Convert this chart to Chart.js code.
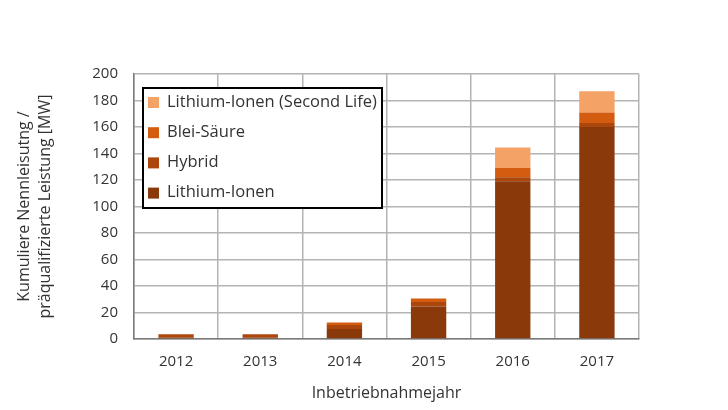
<!DOCTYPE html>
<html>
<head>
<meta charset="utf-8">
<script src="https://cdn.jsdelivr.net/npm/chart.js@4"></script>
<style>
html,body{margin:0;padding:0;background:#fff;}
#wrap{width:728px;height:410px;}
</style>
</head>
<body>
<div id="wrap"><canvas id="my_canvas" width="728" height="410"></canvas></div>
<script>
// data (MW, cumulative)
const years = ['2012','2013','2014','2015','2016','2017'];
const lithium = [1, 1, 7.5, 24.5, 119, 160];
const hybrid = [2.5, 2.5, 3, 3.5, 3, 3];
const blei = [0, 0, 2, 2.5, 7, 8];
const secondLife = [0, 0, 0, 0, 15.5, 16];

const yTitle = ['Kumuliere Nennleisutng /', 'präqualifizierte Leistung [MW]'];
const xTitle = 'Inbetriebnahmejahr';

const font_family = '"Open Sans", "Noto Sans", sans-serif';
const text_color = '#333';

// legend drawn inside the plot, top-left, with a black frame
const boxLegend = {
    id:'boxLegend',
    afterDraw(chart){
        const ctx = chart.ctx;
        const area = chart.chartArea;
        const x = area.left + 9, y = area.top + 14;
        const w = 239, h = 120;
        ctx.save();
        ctx.fillStyle = '#fff';
        ctx.fillRect(x, y, w, h);
        ctx.lineWidth = 2;
        ctx.strokeStyle = '#000';
        ctx.strokeRect(x, y, w, h);
        ctx.font = '16.5px ' + font_family;
        ctx.textBaseline = 'middle';
        const sets = chart.data.datasets.slice().reverse();
        sets.forEach((ds, i) => {
            const cy = y + 14 + i * 30.2;
            ctx.fillStyle = ds.backgroundColor;
            ctx.fillRect(x + 5, cy - 5, 11, 11);
            ctx.fillStyle = text_color;
            ctx.fillText(ds.label, x + 24, cy);
        });
        ctx.restore();
    }
};

const canvas_element = document.getElementById('my_canvas').getContext('2d');

const the_chart = new Chart(canvas_element,{
    type:'bar',
    data:{
        labels:years,
        datasets:[
            {label:'Lithium-Ionen', data:lithium, backgroundColor:'#8a3a0a'},
            {label:'Hybrid', data:hybrid, backgroundColor:'#ab460c'},
            {label:'Blei-Säure', data:blei, backgroundColor:'#d45c10'},
            {label:'Lithium-Ionen (Second Life)', data:secondLife, backgroundColor:'#f4a266'}
        ]
    },
    options:{
        responsive:false,
        animation:false,
        layout:{padding:{top:74, right:89, left:0, bottom:0}},
        datasets:{bar:{barPercentage:0.42, categoryPercentage:1}},
        plugins:{legend:{display:false}, tooltip:{enabled:false}},
        scales:{
            x:{
                stacked:true,
                afterFit(scale){ scale.height = 71; },
                grid:{color:'#b4b4b4', lineWidth:1.5, drawTicks:false, offset:true},
                border:{color:'#7a7a7a', width:1.5},
                ticks:{color:text_color, font:{family:font_family, size:15}, padding:14},
                title:{display:true, text:xTitle, color:text_color, font:{family:font_family, size:16}, padding:{top:2, bottom:7}}
            },
            y:{
                stacked:true,
                min:0,
                max:200,
                afterFit(scale){ scale.width = 134; },
                grid:{color:'#b4b4b4', lineWidth:1.5, drawTicks:false},
                border:{color:'#7a7a7a', width:1.5},
                ticks:{stepSize:20, color:text_color, font:{family:font_family, size:15}, padding:16},
                title:{display:true, text:yTitle, color:text_color, font:{family:font_family, size:16, lineHeight:1.3}, padding:{top:14, bottom:0}}
            }
        }
    },
    plugins:[boxLegend]
});
</script>
</body>
</html>
